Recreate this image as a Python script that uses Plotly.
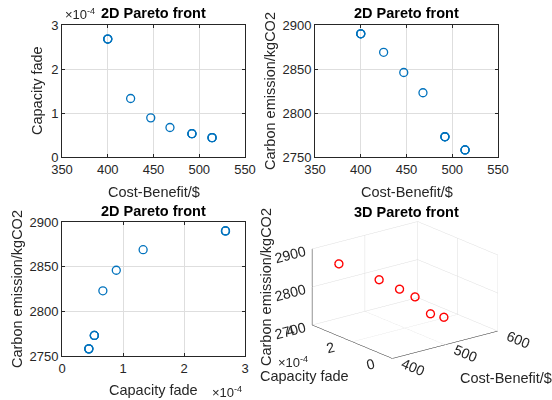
import plotly.graph_objects as go

# ---- data ----
cost = [400, 400, 400, 425, 447, 468, 492, 492, 492, 514, 514, 514]
capacity_fade = [2.68e-4, 2.68e-4, 2.68e-4, 1.33e-4, 0.89e-4, 0.67e-4,
                 0.53e-4, 0.53e-4, 0.53e-4, 0.44e-4, 0.44e-4, 0.44e-4]
carbon = [2890, 2890, 2890, 2869, 2846, 2823, 2773, 2773, 2773, 2758, 2758, 2758]

cost_ticks = [350, 400, 450, 500, 550]
fade_ticks = [0, 1e-4, 2e-4, 3e-4]
fade_ticktext = ["0", "1", "2", "3"]
carbon_ticks = [2750, 2800, 2850, 2900]

cost_ticks3d = [400, 500, 600]
fade_ticks3d = [0, 2e-4, 4e-4]
fade_ticktext3d = ["0", "2", "4"]
carbon_ticks3d = [2700, 2800, 2900]

W, H = 552, 400
BLUE = "#0072BD"
AX = "#262626"
GRID = "#dedede"
FONT = "Liberation Sans, Arial, sans-serif"

def px(x0, x1):
    return [x0 / W, x1 / W]

def py(top, bottom):
    return [1 - bottom / H, 1 - top / H]

mk = dict(symbol="circle-open", size=8, color=BLUE, line=dict(width=1.3, color=BLUE))

fig = go.Figure()
fig.add_trace(go.Scatter(x=cost, y=capacity_fade, mode="markers", marker=mk,
                         xaxis="x", yaxis="y", showlegend=False))
fig.add_trace(go.Scatter(x=cost, y=carbon, mode="markers", marker=mk,
                         xaxis="x2", yaxis="y2", showlegend=False))
fig.add_trace(go.Scatter(x=capacity_fade, y=carbon, mode="markers", marker=mk,
                         xaxis="x3", yaxis="y3", showlegend=False))
fig.add_trace(go.Scatter3d(x=cost, y=capacity_fade, z=carbon, mode="markers",
                           marker=dict(symbol="circle-open", size=5, color="#FF0000",
                                       line=dict(width=1.6, color="#FF0000")),
                           scene="scene", showlegend=False))

def ax2d(**kw):
    d = dict(showgrid=True, gridcolor=GRID, gridwidth=1, zeroline=False,
             showline=True, linecolor=AX, linewidth=1, mirror="ticks",
             ticks="inside", ticklen=3, tickcolor=AX, tickwidth=1,
             automargin=False,
             tickfont=dict(family=FONT, size=13, color=AX))
    d.update(kw)
    return d

L1, R1 = 62, 245
L2, R2 = 315, 498
T1, B1 = 25, 157
T2, B2 = 222, 356

fig.update_layout(
    width=W, height=H, margin=dict(l=0, r=0, t=0, b=0, autoexpand=False),
    paper_bgcolor="white", plot_bgcolor="white",
    font=dict(family=FONT, color=AX),
    xaxis=ax2d(domain=px(L1, R1), range=[350, 550], tickvals=cost_ticks, anchor="y"),
    yaxis=ax2d(domain=py(T1, B1), range=[0, 3e-4], tickvals=fade_ticks,
               ticktext=fade_ticktext, anchor="x"),
    xaxis2=ax2d(domain=px(L2, R2), range=[350, 550], tickvals=cost_ticks, anchor="y2"),
    yaxis2=ax2d(domain=py(T1, B1), range=[2750, 2900], tickvals=carbon_ticks, anchor="x2"),
    xaxis3=ax2d(domain=px(L1, R1), range=[0, 3e-4], tickvals=fade_ticks,
                ticktext=fade_ticktext, anchor="y3"),
    yaxis3=ax2d(domain=py(T2, B2), range=[2750, 2900], tickvals=carbon_ticks, anchor="x3"),
)

def ax3d(**kw):
    d = dict(title=dict(text=""), showgrid=True, gridcolor=GRID, gridwidth=1,
             zeroline=False, showline=True, linecolor=AX, linewidth=1,
             showbackground=False, showspikes=False, ticks="outside", ticklen=9,
             tickcolor="rgba(0,0,0,0)", tickfont=dict(family=FONT, size=13, color=AX),
             autorange=False)
    d.update(kw)
    return d

k = 1.46
d = 1.6
eye = dict(x=-0.584 * d, y=-0.741 * d, z=0.329 * d)
fig.update_layout(scene=dict(
    domain=dict(x=px(262, 548), y=py(198, 382)),
    xaxis=ax3d(range=[400, 600], tickvals=cost_ticks3d, ticklen=10),
    yaxis=ax3d(range=[0, 4e-4], tickvals=fade_ticks3d, ticktext=fade_ticktext3d,
               ticklen=15),
    zaxis=ax3d(range=[2700, 2900], tickvals=carbon_ticks3d, ticklen=7),
    aspectmode="manual", aspectratio=dict(x=1 * k, y=0.964 * k, z=0.6 * k),
    camera=dict(eye=eye, center=dict(x=0, y=0, z=0), up=dict(x=0, y=0, z=1),
                projection=dict(type="orthographic")),
    bgcolor="white",
))

ann = []
def text(x, y, s, size=13, bold=False, angle=0, xanchor="center", color=AX):
    ann.append(dict(x=x / W, y=1 - y / H, xref="paper", yref="paper", text=s,
                    showarrow=False, xanchor=xanchor, yanchor="middle",
                    textangle=angle, font=dict(family=FONT, size=size, color=color)))

# titles
text((L1 + R1) / 2, 13, "<b>2D Pareto front</b>", size=14.5, color="black")
text((L2 + R2) / 2, 13, "<b>2D Pareto front</b>", size=14.5, color="black")
text((L1 + R1) / 2, 211, "<b>2D Pareto front</b>", size=14.5, color="black")
text(406, 212, "<b>3D Pareto front</b>", size=14.5, color="black")
# 2D axis titles
text((L1 + R1) / 2, 192, "Cost-Benefit/$", size=14.5)
text(37, (T1 + B1) / 2, "Capacity fade", size=14.5, angle=-90)
text((L2 + R2) / 2, 192, "Cost-Benefit/$", size=14.5)
text(270, (T1 + B1) / 2, "Carbon emission/kgCO2", size=14.5, angle=-90)
text((L1 + R1) / 2, 390, "Capacity fade", size=14.5)
text(17, (T2 + B2) / 2, "Carbon emission/kgCO2", size=14.5, angle=-90)
# exponent labels
text(63, 14, "×10<sup>-4</sup>", xanchor="left")
text(244, 392, "×10<sup>-4</sup>", xanchor="right")
text(276, 362, "×10<sup>-4</sup>", xanchor="left")
# 3D axis labels
text(304, 376, "Capacity fade", size=14.5)
text(506, 378, "Cost-Benefit/$", size=14.5)
text(266, 287, "Carbon emission/kgCO2", size=14.5, angle=-90)
fig.update_layout(annotations=ann)

fig.write_html("out.html", config={"displayModeBar": False},
               post_script="document.body.style.margin='0';document.body.style.padding='0';")
